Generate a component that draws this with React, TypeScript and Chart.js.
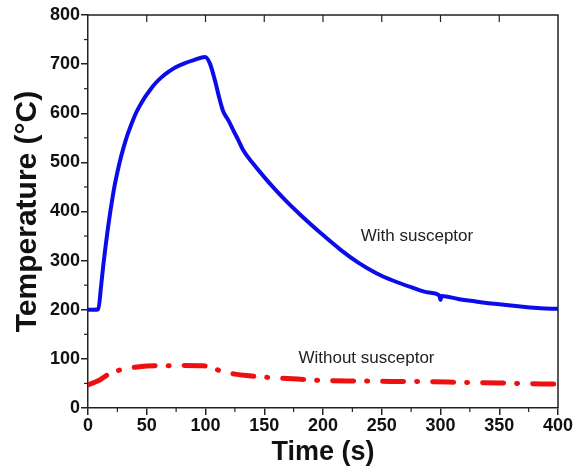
import { useEffect, useRef } from 'react';
import { Chart, registerables } from 'chart.js';
Chart.register(...registerables);

const FONT = "'Liberation Sans', Arial, Helvetica, sans-serif";

// With susceptor (blue)
const timeWith = [0, 5, 8.8, 11, 13, 15, 17, 19, 21, 23, 25, 27.2, 30, 33, 36.5, 40, 44, 48.5, 53, 57, 62, 68.4, 75, 82.6, 90, 99.6, 103.8, 108, 112.3, 115.2, 119.4, 123.7, 128, 132, 141, 150, 160, 170, 180, 190, 200, 215, 230, 245, 260, 275, 290, 299, 300, 301, 315, 330, 350, 370, 385, 400];
const tempWith = [200, 200, 201, 245, 290, 330, 367, 400, 430, 457, 480, 503, 528, 552, 575, 596, 615, 633, 648, 660, 672, 684, 694, 702, 708, 714.6, 701, 667, 626, 603, 586, 565, 545, 525, 496, 470, 443, 418, 395, 373, 352, 322, 296, 275, 259, 246, 235, 229, 220, 228, 222, 217, 211, 206, 203, 202];

// Without susceptor (red)
const timeWithout = [0, 10, 18.7, 30, 40, 50, 65, 80, 98, 105, 114, 125, 135, 155, 178, 203, 230, 257, 291, 320, 350, 387, 400];
const tempWithout = [47, 57, 70.6, 79, 83, 85.4, 86, 86.5, 86, 83, 74, 69, 66, 62, 59, 55.6, 55, 54, 53.5, 52, 51, 49, 49];

const xMin = 0, xMax = 400, xStep = 50, xMinorStep = 25;
const yMin = 0, yMax = 800, yStep = 100, yMinorStep = 50;

const annotations = [
  { text: 'With susceptor', x: 280, y: 350 },
  { text: 'Without susceptor', x: 237, y: 102 },
];

export default function App() {
  const ref = useRef<HTMLCanvasElement>(null);
  useEffect(() => {
    const extras = {
      id: 'extras',
      afterDatasetsDraw(chart: any) {
        const ctx = chart.ctx;
        const xs = chart.scales.x;
        const ys = chart.scales.y;
        const ca = chart.chartArea;
        ctx.save();
        ctx.strokeStyle = '#222';
        ctx.lineWidth = 1.5;
        ctx.beginPath();
        ctx.moveTo(ca.left, ca.top);
        ctx.lineTo(ca.right, ca.top);
        ctx.lineTo(ca.right, ca.bottom);
        ctx.stroke();
        ctx.lineWidth = 1.2;
        for (let v = xMin + xMinorStep; v < xMax; v += xStep) {
          const px = xs.getPixelForValue(v);
          ctx.beginPath();
          ctx.moveTo(px, ca.bottom);
          ctx.lineTo(px, ca.bottom + 4);
          ctx.stroke();
        }
        for (let v = xMin + xStep; v < xMax; v += xStep) {
          const px = xs.getPixelForValue(v);
          ctx.beginPath();
          ctx.moveTo(px, ca.top);
          ctx.lineTo(px, ca.top + 7);
          ctx.stroke();
        }
        for (let v = yMin + yMinorStep; v < yMax; v += yStep) {
          const py = ys.getPixelForValue(v);
          ctx.beginPath();
          ctx.moveTo(ca.left, py);
          ctx.lineTo(ca.left - 4, py);
          ctx.stroke();
        }
        ctx.fillStyle = '#222';
        ctx.font = `17px ${FONT}`;
        ctx.textAlign = 'center';
        ctx.textBaseline = 'middle';
        for (const a of annotations) {
          ctx.fillText(a.text, xs.getPixelForValue(a.x), ys.getPixelForValue(a.y));
        }
        ctx.restore();
      },
    };

    const chart = new Chart(ref.current as HTMLCanvasElement, {
      type: 'line',
      data: {
        datasets: [
          {
            label: 'With susceptor',
            data: timeWith.map((t, i) => ({ x: t, y: tempWith[i] })),
            borderColor: 'rgb(12,12,235)',
            borderWidth: 4,
            pointRadius: 0,
            cubicInterpolationMode: 'monotone',
            borderJoinStyle: 'round',
            borderCapStyle: 'round',
          },
          {
            label: 'Without susceptor',
            data: timeWithout.map((t, i) => ({ x: t, y: tempWithout[i] })),
            borderColor: 'rgb(238,16,16)',
            borderWidth: 5,
            pointRadius: 0,
            cubicInterpolationMode: 'monotone',
            borderCapStyle: 'round',
            borderDash: [21, 13, 1, 15],
          },
        ],
      },
      options: {
        animation: false,
        responsive: false,
        devicePixelRatio: 1,
        layout: { padding: { top: 15, right: 16, left: 0, bottom: 0 } },
        plugins: { legend: { display: false }, tooltip: { enabled: false } },
        scales: {
          x: {
            type: 'linear',
            min: xMin,
            max: xMax,
            afterFit: (s: any) => { s.height = 64; },
            ticks: { stepSize: xStep, color: '#111', padding: 0, font: { family: FONT, size: 18, weight: 'bold' } },
            grid: { drawOnChartArea: false, drawTicks: true, tickLength: 7, color: '#222', lineWidth: 1.5 },
            border: { display: true, color: '#222', width: 1.5 },
            title: { display: true, text: 'Time (s)', color: '#111', padding: { top: 0, bottom: 3 }, font: { family: FONT, size: 27, weight: 'bold' } },
          },
          y: {
            type: 'linear',
            min: yMin,
            max: yMax,
            afterFit: (s: any) => { s.width = 88; },
            ticks: { stepSize: yStep, color: '#111', padding: 1, font: { family: FONT, size: 18, weight: 'bold' } },
            grid: { drawOnChartArea: false, drawTicks: true, tickLength: 7, color: '#222', lineWidth: 1.5 },
            border: { display: true, color: '#222', width: 1.5 },
            title: { display: true, text: 'Temperature (°C)', color: '#111', padding: { top: 10, bottom: 0 }, font: { family: FONT, size: 30, weight: 'bold' } },
          },
        },
      },
      plugins: [extras],
    } as any);
    return () => chart.destroy();
  }, []);
  return (
    <div style={{ position: 'fixed', left: 0, top: 0, width: 574, height: 472, background: '#fff' }}>
      <canvas ref={ref} width={574} height={472} />
    </div>
  );
}
